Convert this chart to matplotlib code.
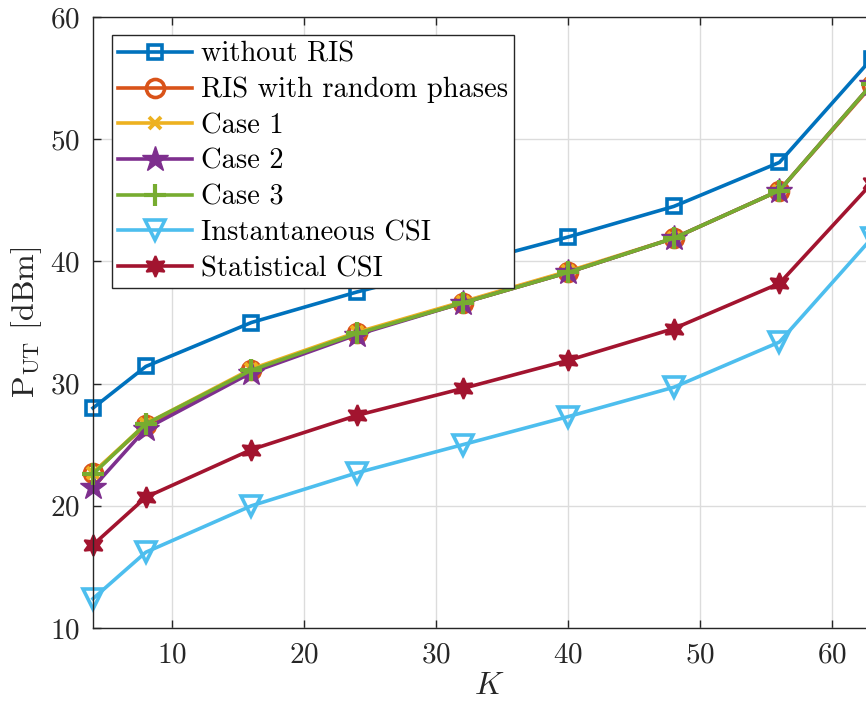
import matplotlib
matplotlib.use("Agg")
import matplotlib.pyplot as plt

plt.rcParams['font.family'] = 'serif'
plt.rcParams['font.serif'] = ['cmr10']
plt.rcParams['mathtext.fontset'] = 'cm'
plt.rcParams['axes.formatter.use_mathtext'] = True

K = [4, 8, 16, 24, 32, 40, 48, 56, 63]
without_ris = [28.0, 31.4, 35.0, 37.5, 39.7, 42.0, 44.5, 48.1, 56.6]
ris_random = [22.7, 26.6, 31.1, 34.1, 36.6, 39.1, 41.9, 45.8, 54.4]
case1 = [22.7, 26.7, 31.2, 34.2, 36.7, 39.2, 41.9, 45.8, 54.5]
case2 = [21.5, 26.3, 30.9, 34.0, 36.6, 39.1, 41.9, 45.8, 54.5]
case3 = [22.6, 26.7, 31.1, 34.1, 36.6, 39.1, 41.9, 45.8, 54.5]
instantaneous = [12.4, 16.2, 20.0, 22.7, 25.0, 27.3, 29.7, 33.4, 41.9]
statistical = [16.8, 20.7, 24.6, 27.4, 29.6, 31.9, 34.5, 38.2, 46.4]

labels = ['without RIS', 'RIS with random phases', 'Case 1', 'Case 2', 'Case 3',
          'Instantaneous CSI', 'Statistical CSI']
xticks = [10, 20, 30, 40, 50, 60]
yticks = [10, 20, 30, 40, 50, 60]

fig = plt.figure(figsize=(8.66, 7.02), dpi=100)
ax = fig.add_axes([93/866, 74/702, 792/866, 611/702])

lw = 2.6
ax.plot(K, without_ris, color='#0072BD', lw=lw, marker='s', ms=10, mfc='none', mew=2.6, label=labels[0], clip_on=False)
ax.plot(K, ris_random, color='#D95319', lw=lw, marker='o', ms=13, mfc='none', mew=2.6, label=labels[1], clip_on=False)
ax.plot(K, case1, color='#EDB120', lw=lw, marker='x', ms=9, mew=2.8, label=labels[2], clip_on=False)
ax.plot(K, case2, color='#7E2F8E', lw=lw, marker='*', ms=19, mew=1, label=labels[3], clip_on=False)
ax.plot(K, case3, color='#77AC30', lw=lw, marker='+', ms=16, mew=3, label=labels[4], clip_on=False)
ax.plot(K, instantaneous, color='#4DBEEE', lw=lw, marker='v', ms=14, mfc='none', mew=2.6, label=labels[5], clip_on=False)
ax.plot(K, statistical, color='#A2142F', lw=lw, marker=(6, 1, 0), ms=15, mew=1.5, label=labels[6], clip_on=False)

ax.set_xlim(4, 64)
ax.set_ylim(10, 60)
ax.set_xticks(xticks)
ax.set_yticks(yticks)
ax.tick_params(direction='in', top=True, right=True, labelsize=21, colors='#262626', length=6, width=1)
ax.tick_params(axis='x', pad=10)
ax.tick_params(axis='y', pad=9)
for sp in ax.spines.values():
    sp.set_color('#262626')
    sp.set_linewidth(1)
ax.grid(True, color='#dcdcdc', lw=1)
ax.set_axisbelow(True)

ax.set_xlabel(r'$K$', fontsize=23, color='#262626', labelpad=3)
ax.set_ylabel(r'$\mathrm{P}_{\mathrm{UT}}$ [dBm]', fontsize=23, color='#262626', labelpad=5)

leg = ax.legend(loc='upper left', bbox_to_anchor=(19/792, 1 - 18/611), fontsize=20.5,
                frameon=True, fancybox=False, framealpha=1, edgecolor='#262626',
                handlelength=2.6, labelspacing=0.33, borderpad=0.22, handletextpad=0.3,
                borderaxespad=0)
leg.get_frame().set_linewidth(1)

fig.savefig('out.png', dpi=100)
